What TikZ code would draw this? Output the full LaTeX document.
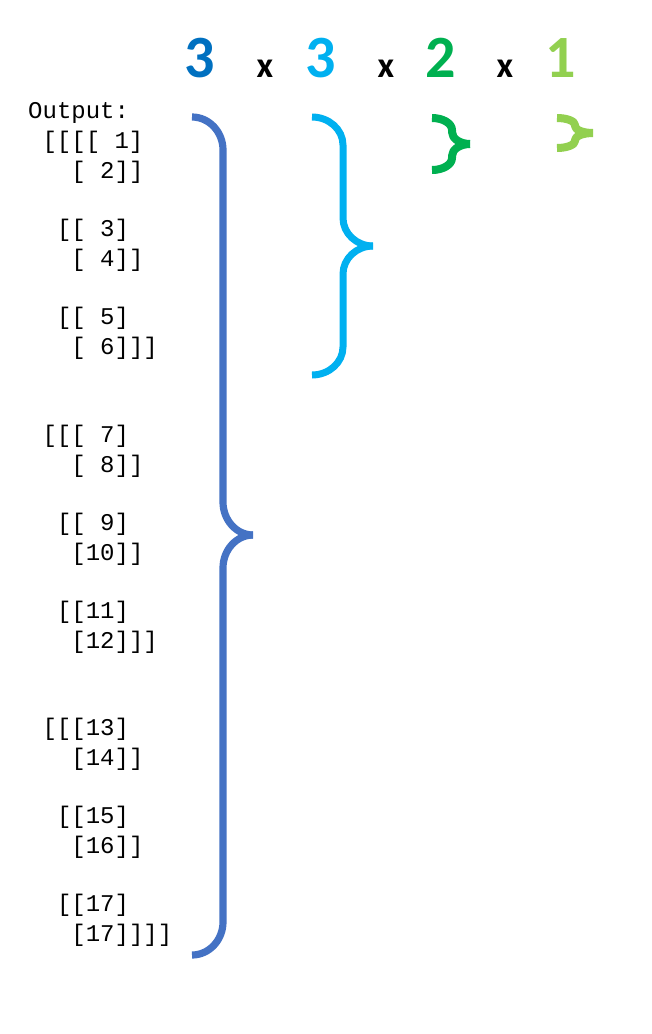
\documentclass[tikz,border=0pt]{standalone}
\usepackage{fontspec}
\setmonofont{Liberation Mono}
\newfontfamily\dimfont{Carlito}
\usetikzlibrary{positioning}
\definecolor{dimone}{HTML}{0070C0}
\definecolor{dimtwo}{HTML}{00B0F0}
\definecolor{dimthree}{HTML}{00B050}
\definecolor{dimfour}{HTML}{92D050}
\definecolor{bracebig}{HTML}{4472C4}

\begin{document}
\begin{tikzpicture}[x=1pt,y=-1pt,every node/.style={inner sep=0pt,anchor=base},dim/.style={font=\dimfont\bfseries\fontsize{60}{60}\selectfont},times/.style={font=\dimfont\bfseries\fontsize{36}{36}\selectfont},row/.style={anchor=base west,font=\ttfamily\fontsize{24}{24}\selectfont},brace/.style={line cap=butt,line join=round}]
  \useasboundingbox (0,0) rectangle (652,1034);
  % shape of the array
  \node[dim,dimone] (d1) at (200,77) {3};
  \node[times] (x1) at (265,77) {x};
  \node[dim,dimtwo] (d2) at (320.5,77) {3};
  \node[times] (x2) at (386,77) {x};
  \node[dim,dimthree] (d3) at (440.5,77) {2};
  \node[times] (x3) at (505,77) {x};
  \node[dim,dimfour] (d4) at (560.5,77) {1};
  % printed array
  \node[row] (out) at (28,118) {Output:};
  \foreach \y/\c/\t [count=\i] in {148/1/{[[[[ 1]},178/3/{[ 2]]},236/2/{[[ 3]},266/3/{[ 4]]},324/2/{[[ 5]},354/3/{[ 6]]]},
      442/1/{[[[ 7]},472/3/{[ 8]]},530/2/{[[ 9]},560/3/{[10]]},618/2/{[[11]},648/3/{[12]]]},
      735/1/{[[[13]},765/3/{[14]]},823/2/{[[15]},853/3/{[16]]},911/2/{[[17]},941/3/{[17]]]]}}
    \node[row] (r\i) at (28+14.4*\c,\y) {\t};
  % one brace per axis
  \foreach \col/\xa/\xb/\xc/\ya/\ym/\yb/\r/\w in {bracebig/192/223/253/117/535/955/33/7.2,dimtwo/312/343/373/117/246/375/28/7,dimthree/432/452/470/118/144/170/12/8,dimfour/557/575/593/118/133/148/7/8}
  {
    \draw[brace,\col,line width=\w pt] (\xa,\ya) .. controls ({\xa+0.55*(\xb-\xa)},\ya) and (\xb,\ya+0.45*\r) .. (\xb,\ya+\r)
      -- (\xb,\ym-\r) .. controls (\xb,\ym-0.45*\r) and ({\xc-0.55*(\xc-\xb)},\ym) .. (\xc,\ym);
    \draw[brace,\col,line width=\w pt] (\xc,\ym) .. controls ({\xc-0.55*(\xc-\xb)},\ym) and (\xb,\ym+0.45*\r) .. (\xb,\ym+\r)
      -- (\xb,\yb-\r) .. controls (\xb,\yb-0.45*\r) and ({\xa+0.55*(\xb-\xa)},\yb) .. (\xa,\yb);
  }
\end{tikzpicture}
\end{document}
